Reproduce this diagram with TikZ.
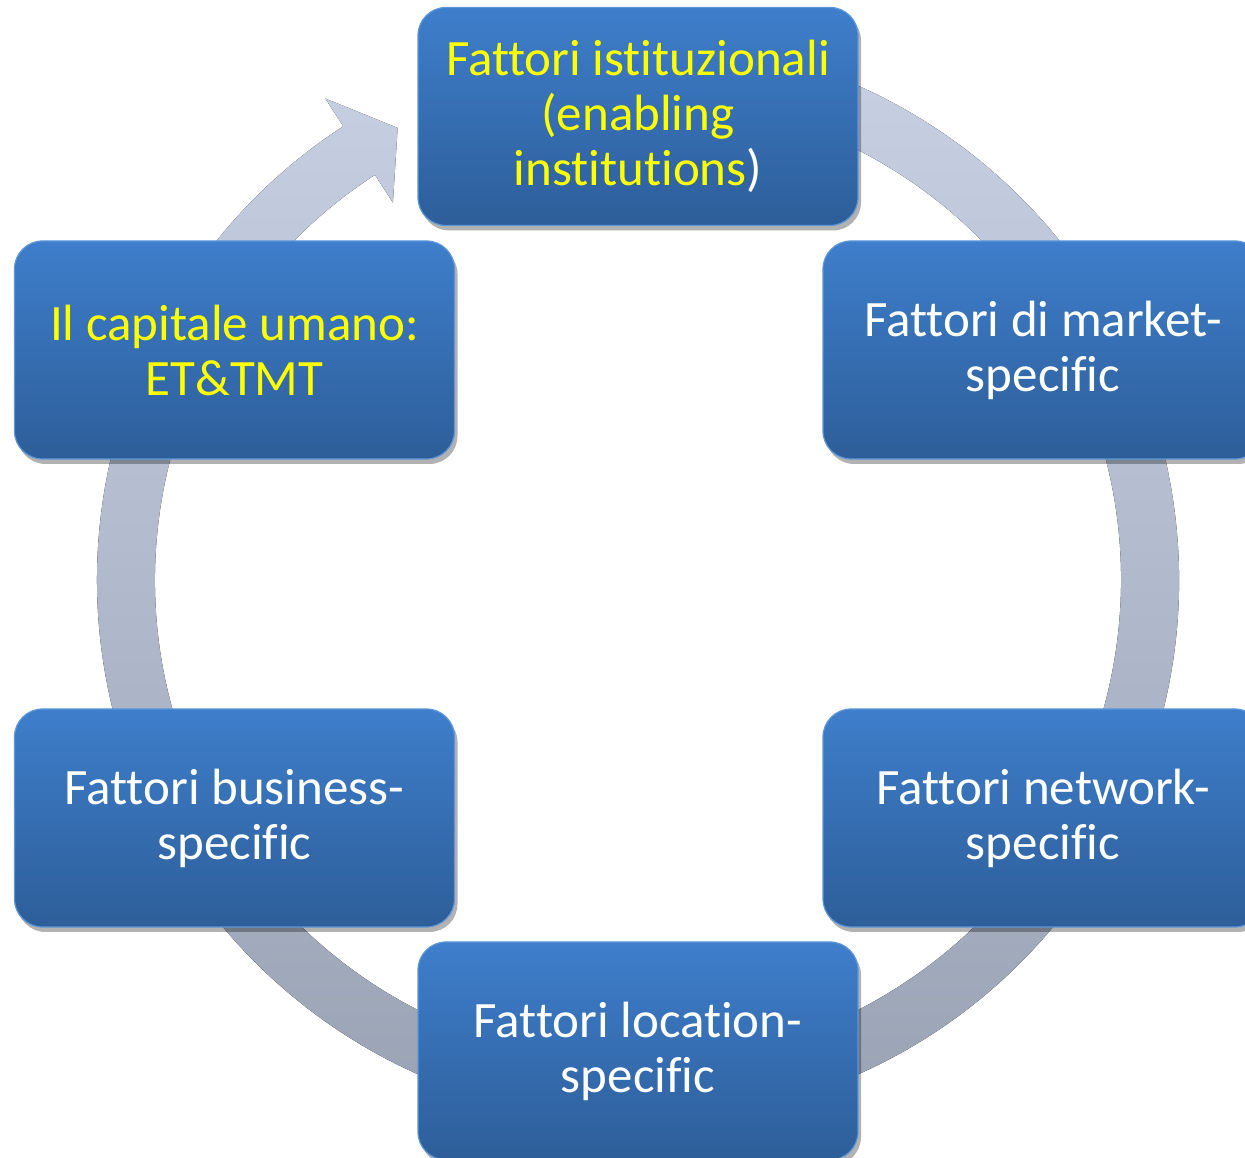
\documentclass[tikz,border=0pt]{standalone}
\usepackage{fontspec}
\setmainfont{Carlito}[Ligatures={NoCommon}]
\usetikzlibrary{calc,shadows}
\definecolor{boxtop}{HTML}{3E7ECB}
\definecolor{boxbot}{HTML}{2D5E99}
\definecolor{boxedge}{HTML}{5D97D8}
\definecolor{ringtop}{HTML}{CAD3E6}
\definecolor{ringbot}{HTML}{98A1B2}
\definecolor{txtyellow}{HTML}{FFFF00}
\begin{document}
\begin{tikzpicture}[x=1pt,y=1pt,
  factorbox/.style={rectangle, rounded corners=28pt, minimum width=440pt, minimum height=218pt,
    top color=boxtop, bottom color=boxbot, draw=boxedge, line width=1.2pt,
    drop shadow={shadow xshift=3pt, shadow yshift=-5pt, opacity=0.3, fill=black},
    align=center, text=white, font=\fontsize{51}{55}\selectfont, inner sep=0pt},
  ringshade/.style={top color=ringtop, bottom color=ringbot}]
\clip (0,0) rectangle (1245,1158);
\useasboundingbox (0,0) rectangle (1245,1158);
\coordinate (C) at (638,578);
% circular arrow
\fill[ringshade]
  ($(C)+(100:541pt)$) arc[start angle=100, end angle=-237, radius=541pt]
  -- ($(C)+(-237:574pt)$) -- ($(C)+(-242:512pt)$) -- ($(C)+(-237:450pt)$)
  -- ($(C)+(-237:483pt)$) arc[start angle=-237, end angle=100, radius=483pt] -- cycle;
% boxes
\node[factorbox, text=txtyellow] (top) at (638,1041.5)
  {Fattori istituzionali\\(enabling\\institutions\textcolor{white}{)}};
\node[factorbox, text=txtyellow] (tl) at (234.5,808) {Il capitale umano:\\ET\&TMT};
\node[factorbox] (tr) at (1043,808) {Fattori di market-\\specific};
\node[factorbox] (br) at (1043,340) {Fattori network-\\specific};
\node[factorbox] (bl) at (234.5,340) {Fattori business-\\specific};
\node[factorbox] (bot) at (638,107) {Fattori location-\\specific};
\end{tikzpicture}
\end{document}
